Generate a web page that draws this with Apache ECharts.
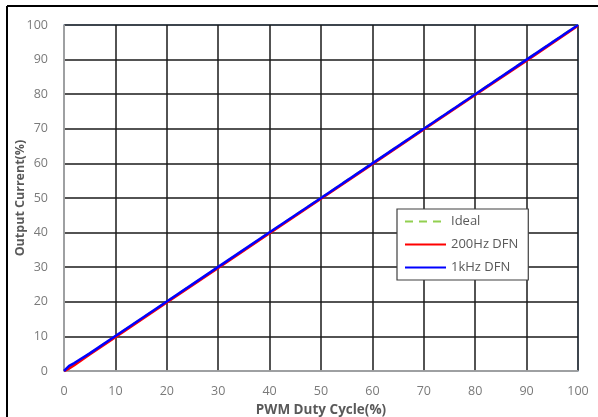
<!DOCTYPE html>
<html>
<head>
<meta charset="utf-8">
<script src="https://cdn.jsdelivr.net/npm/echarts@6/dist/echarts.min.js"></script>
<style>
html,body{margin:0;padding:0;background:#fff;}
#c{width:598px;height:417px;}
</style>
</head>
<body>
<div id="c"></div>
<script>
const duty = [0, 1, 2, 5, 10, 20, 30, 40, 50, 60, 70, 80, 90, 100];
const ideal = [0, 1, 2, 5, 10, 20, 30, 40, 50, 60, 70, 80, 90, 100];
const dfn200 = [0, 0.7, 1.7, 4.8, 9.8, 19.8, 29.8, 39.8, 49.8, 59.8, 69.8, 79.8, 89.7, 99.8];
const dfn1k = [0, 1.5, 2.3, 5.1, 10.1, 20.1, 30.1, 40.1, 50.0, 60.0, 70.0, 80.0, 90.0, 100];
const xTicks = [0, 10, 20, 30, 40, 50, 60, 70, 80, 90, 100];
const yTicks = [0, 10, 20, 30, 40, 50, 60, 70, 80, 90, 100];
const seriesNames = ['Ideal', '200Hz DFN', '1kHz DFN'];

const pairs = arr => duty.map((d, i) => [d, arr[i]]);
const chart = echarts.init(document.getElementById('c'));
const font = '"Open Sans", "Noto Sans", sans-serif';
chart.setOption({
  animation: false,
  backgroundColor: '#fff',
  graphic: [
    {type: 'line', shape: {x1: 7, y1: 6, x2: 7, y2: 417}, style: {stroke: '#000', lineWidth: 2}},
    {type: 'line', shape: {x1: 7, y1: 6, x2: 598, y2: 6}, style: {stroke: '#000', lineWidth: 2}}
  ],
  grid: {left: 64, right: 20, top: 25, bottom: 46, containLabel: false, outerBoundsMode: 'none',
    show: true, borderColor: '#8db3e2', borderWidth: 1.5, backgroundColor: 'transparent'},
  xAxis: {
    type: 'value', min: 0, max: 100, interval: 10,
    name: 'PWM Duty Cycle(%)', nameLocation: 'middle', nameGap: 32, nameMoveOverlap: false,
    nameTextStyle: {fontFamily: font, fontSize: 13.5, fontWeight: 'bold', color: '#595959'},
    axisLine: {lineStyle: {color: '#bfbfbf', width: 1.5}},
    axisTick: {show: false},
    axisLabel: {color: '#7a7a7a', fontFamily: font, fontSize: 12.5, margin: 14,
      formatter: v => xTicks.includes(v) ? String(v) : ''},
    splitLine: {lineStyle: {color: '#1a1a1a', width: 1.5}}
  },
  yAxis: {
    type: 'value', min: 0, max: 100, interval: 10,
    name: 'Output Current(%)', nameLocation: 'middle', nameGap: 37, nameMoveOverlap: false,
    nameTextStyle: {fontFamily: font, fontSize: 12.5, fontWeight: 'bold', color: '#595959'},
    axisLine: {show: true, lineStyle: {color: '#bfbfbf', width: 1.5}},
    axisTick: {show: false},
    axisLabel: {color: '#7a7a7a', fontFamily: font, fontSize: 12.5, margin: 16,
      formatter: v => yTicks.includes(v) ? String(v) : ''},
    splitLine: {lineStyle: {color: '#1a1a1a', width: 1.5}}
  },
  legend: {
    orient: 'vertical', left: 397, top: 209,
    backgroundColor: '#fff', borderColor: '#404040', borderWidth: 1.2,
    padding: [6, 10, 6, 7], itemGap: 10, itemWidth: 41, itemHeight: 14,
    itemStyle: {opacity: 0},
    textStyle: {color: '#595959', fontFamily: font, fontSize: 13},
    data: seriesNames
  },
  series: [
    {name: seriesNames[0], type: 'line', data: pairs(ideal), symbol: 'none',
      lineStyle: {color: '#92d050', width: 2.5, type: [8, 6]}, itemStyle: {color: '#92d050'}, z: 2},
    {name: seriesNames[1], type: 'line', data: pairs(dfn200), symbol: 'none',
      lineStyle: {color: '#ff0000', width: 2.5}, itemStyle: {color: '#ff0000'}, z: 3},
    {name: seriesNames[2], type: 'line', data: pairs(dfn1k), symbol: 'none',
      lineStyle: {color: '#0000ff', width: 2.5}, itemStyle: {color: '#0000ff'}, z: 4}
  ]
});
</script>
</body>
</html>
